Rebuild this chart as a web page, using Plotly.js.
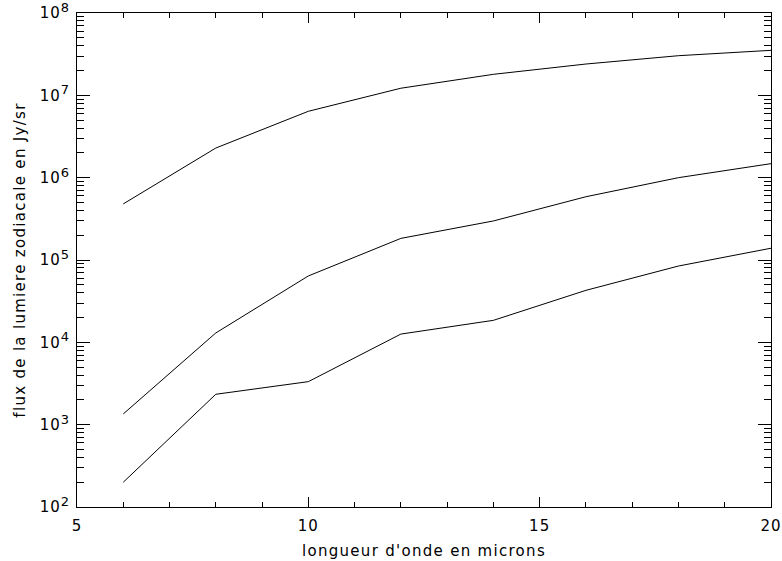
<!DOCTYPE html>
<html>
<head>
<meta charset="utf-8">
<script src="https://cdn.plot.ly/plotly-3.0.1.min.js"></script>
<style>
html,body{margin:0;padding:0;background:#fff;}
#chart{width:782px;height:561px;}
#chart .xtitle, #chart .ytitle{letter-spacing:1.3px;}
#chart .xtick text, #chart .ytick text{letter-spacing:1px;}
</style>
</head>
<body>
<div id="chart"></div>
<script>
// wavelength (microns)
const wavelength = [6, 8, 10, 12, 14, 16, 18, 20];
// zodiacal light flux (Jy/sr), three curves
const fluxHigh = [4.8e5, 2.29e6, 6.4e6, 1.22e7, 1.80e7, 2.40e7, 3.03e7, 3.52e7];
const fluxMid  = [1.35e3, 1.30e4, 6.4e4, 1.83e5, 2.98e5, 5.87e5, 1.0e6, 1.48e6];
const fluxLow  = [200, 2.34e3, 3.33e3, 1.26e4, 1.85e4, 4.28e4, 8.45e4, 1.39e5];

const yTickVals = [1e2, 1e3, 1e4, 1e5, 1e6, 1e7, 1e8];
const yExponents = ['2', '3', '4', '5', '6', '7', '8'];
const yTickText = yExponents.map(e => '10<sup><span style="font-size:13px">' + e + '</span></sup>');
const xTickVals = [5, 10, 15, 20];

const yMinor = [];
for (let e = 2; e < 8; e++) for (let m = 2; m <= 9; m++) yMinor.push(m * Math.pow(10, e));

const lineStyle = {color: '#000', width: 1};
const traces = [fluxHigh, fluxMid, fluxLow].map(v => ({
  x: wavelength, y: v, type: 'scatter', mode: 'lines', line: lineStyle, hoverinfo: 'skip'
}));

const fam = 'DejaVu Sans, sans-serif';
const layout = {
  width: 782, height: 561,
  margin: {l: 77, r: 11, t: 13, b: 54},
  paper_bgcolor: '#fff', plot_bgcolor: '#fff',
  showlegend: false,
  font: {family: fam, size: 14, color: '#000'},
  xaxis: {
    range: [5, 20], tickvals: xTickVals, ticktext: xTickVals.map(String),
    ticks: 'inside', ticklen: 10, tickwidth: 1, tickcolor: '#000',
    showline: true, linecolor: '#000', linewidth: 1, mirror: 'ticks',
    showgrid: false, zeroline: false, ticklabelstandoff: 5, ticklabeloverflow: 'allow',
    tickfont: {family: fam, size: 15, color: '#000'},
    minor: {dtick: 1, ticks: 'inside', ticklen: 5, tickwidth: 1, tickcolor: '#000', showgrid: false},
    title: {text: "longueur d'onde en microns", font: {family: fam, size: 15, color: '#000'}, standoff: 11}
  },
  yaxis: {
    type: 'log', range: [2, 8], tickvals: yTickVals, ticktext: yTickText,
    ticks: 'inside', ticklen: 13, tickwidth: 1, tickcolor: '#000',
    showline: true, linecolor: '#000', linewidth: 1, mirror: 'ticks',
    showgrid: false, zeroline: false, ticklabelstandoff: 3, ticklabeloverflow: 'allow',
    tickfont: {family: fam, size: 15, color: '#000'},
    minor: {tickvals: yMinor, ticks: 'inside', ticklen: 7, tickwidth: 1, tickcolor: '#000', showgrid: false},
    title: {text: 'flux de la lumiere zodiacale en Jy/sr', font: {family: fam, size: 15, color: '#000'}, standoff: 13}
  }
};

Plotly.newPlot('chart', traces, layout, {displayModeBar: false, staticPlot: true});
</script>
</body>
</html>
